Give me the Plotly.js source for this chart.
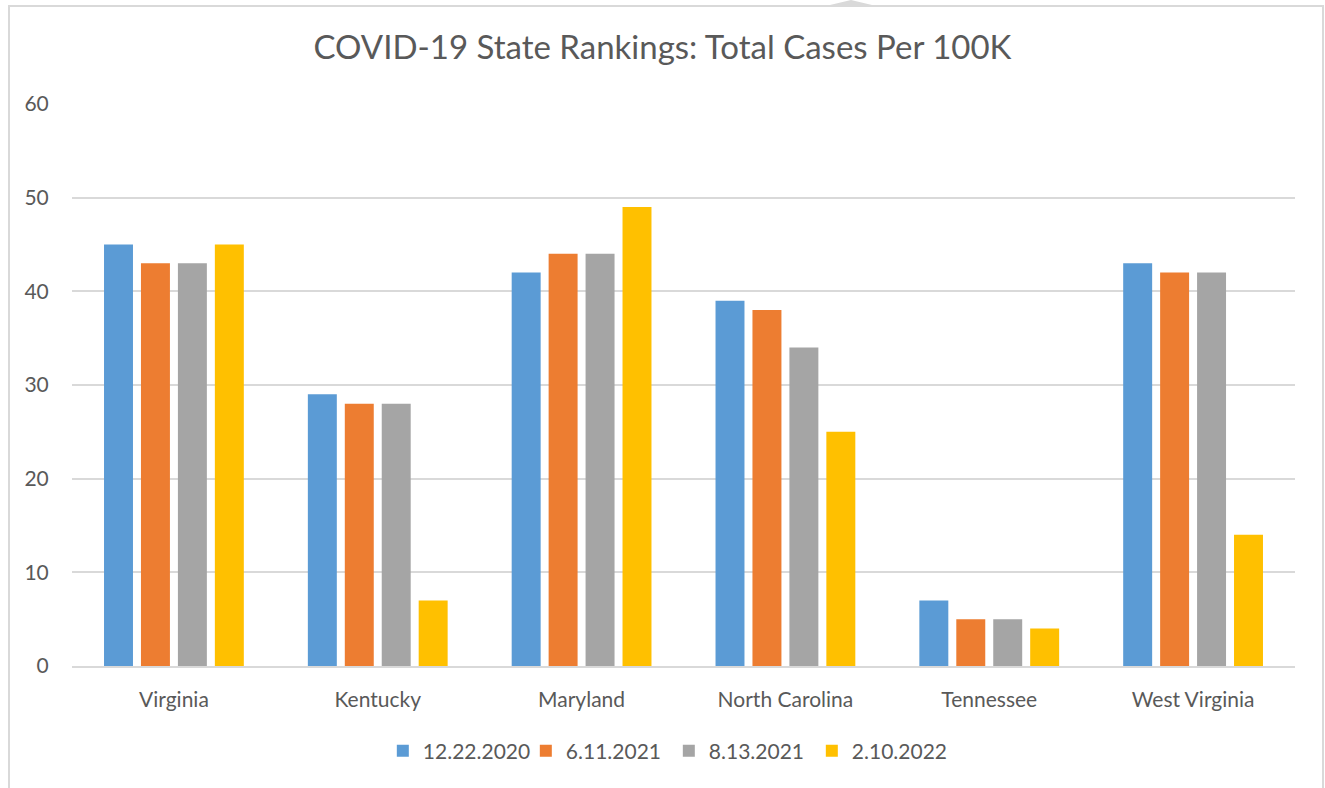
<!DOCTYPE html>
<html><head><meta charset="utf-8">
<script src="https://cdn.plot.ly/plotly-3.0.1.min.js"></script>
<style>
html,body{margin:0;padding:0;background:#fff;width:1325px;height:788px;overflow:hidden;}
#frame{position:absolute;left:8px;top:5px;width:1316px;height:800px;border:2px solid #d9d9d9;box-sizing:border-box;}
#tri{position:absolute;left:830px;top:0;width:0;height:0;border-left:21px solid transparent;border-right:21px solid transparent;border-bottom:5px solid #d9d9d9;}
#chart{position:absolute;left:0;top:0;width:1325px;height:788px;}
</style></head>
<body>
<div id="frame"></div><div id="tri"></div>
<div id="chart"></div>
<script>
const states = ["Virginia","Kentucky","Maryland","North Carolina","Tennessee","West Virginia"];
const seriesNames = ["12.22.2020","6.11.2021","8.13.2021","2.10.2022"];
const s2020_12_22 = [45,29,42,39,7,43];
const s2021_06_11 = [43,28,44,38,5,42];
const s2021_08_13 = [43,28,44,34,5,42];
const s2022_02_10 = [45,7,49,25,4,14];
const colors = ["#5B9BD5","#ED7D31","#A5A5A5","#FFC000"];
const allValues = [s2020_12_22,s2021_06_11,s2021_08_13,s2022_02_10];

const traces = allValues.map((v,i)=>({
  type:"bar", x:states, y:v, name:seriesNames[i],
  marker:{color:colors[i]}, hoverinfo:"x+y+name"
}));
const font = "Lato, 'Open Sans', sans-serif";
Plotly.newPlot("chart", traces, {
  width:1325, height:788,
  paper_bgcolor:"rgba(0,0,0,0)", plot_bgcolor:"rgba(0,0,0,0)",
  margin:{l:72,r:30,t:104,b:122},
  font:{family:font,color:"#595959",size:22},
  title:{text:"COVID-19 State Rankings: Total Cases Per 100K",font:{family:font,size:33,color:"#595959"},x:0.5,xanchor:"center",y:0.94,yanchor:"middle"},
  barmode:"group", bargap:0.275, bargroupgap:0.216,
  xaxis:{showgrid:false,showline:true,linecolor:"#d9d9d9",linewidth:2,ticks:"outside",ticklen:14,tickcolor:"rgba(0,0,0,0)",tickfont:{size:21,color:"#595959"},fixedrange:true},
  yaxis:{range:[0,60],dtick:10,showgrid:true,gridcolor:"#d9d9d9",gridwidth:2,zeroline:false,showline:false,ticks:"outside",ticklen:18,tickcolor:"rgba(0,0,0,0)",tickfont:{size:21,color:"#595959"},fixedrange:true},
  legend:{orientation:"h",x:0.488,xanchor:"center",y:-0.115,yanchor:"top",font:{size:21,color:"#595959"},itemwidth:30,entrywidth:98,entrywidthmode:"pixels",traceorder:"normal"},
  showlegend:true
},{displayModeBar:false,staticPlot:true});
</script>
</body></html>
